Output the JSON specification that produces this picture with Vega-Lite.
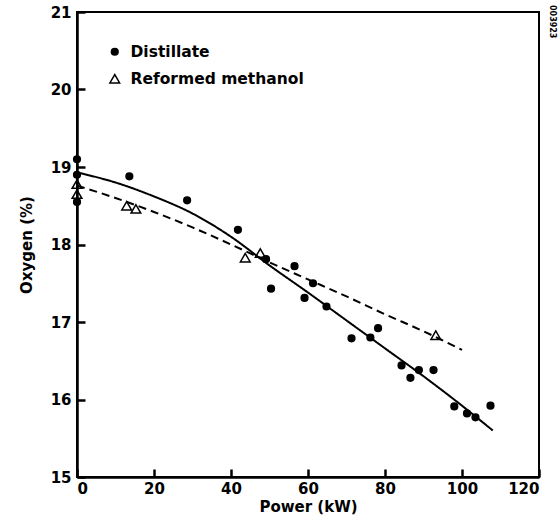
{
  "$schema": "https://vega.github.io/schema/vega-lite/v6.json",
  "width": 462,
  "height": 465,
  "autosize": "none",
  "padding": {"left": 77, "top": 12, "right": 21, "bottom": 44},
  "background": "white",
  "config": {
    "font": "DejaVu Sans",
    "view": {"stroke": "black", "strokeWidth": 2},
    "axis": {
      "domainColor": "black",
      "domainWidth": 2.5,
      "tickColor": "black",
      "tickWidth": 2.5,
      "labelColor": "black",
      "labelFont": "DejaVu Sans",
      "labelFontWeight": "bold",
      "labelFontSize": 15,
      "titleColor": "black",
      "titleFont": "DejaVu Sans",
      "titleFontWeight": "bold",
      "titleFontSize": 15,
      "grid": false,
      "zindex": 1
    },
    "legend": {
      "orient": "none",
      "legendX": 30,
      "legendY": 32,
      "padding": 0,
      "labelFont": "DejaVu Sans",
      "labelFontWeight": "bold",
      "labelFontSize": 15.5,
      "labelColor": "black",
      "labelLimit": 400,
      "labelOffset": 8,
      "rowPadding": 10
    }
  },
  "title": {
    "text": "003923",
    "orient": "right",
    "anchor": "start",
    "fontSize": 8,
    "font": "DejaVu Sans",
    "fontWeight": "bold",
    "color": "black",
    "offset": 8
  },
  "datasets": {
    "points": [
      {"series": "Distillate", "power": 0, "oxygen": 19.1},
      {"series": "Distillate", "power": 0, "oxygen": 18.9},
      {"series": "Distillate", "power": 0, "oxygen": 18.55},
      {"series": "Distillate", "power": 13.6, "oxygen": 18.88},
      {"series": "Distillate", "power": 28.6, "oxygen": 18.57},
      {"series": "Distillate", "power": 41.8, "oxygen": 18.19},
      {"series": "Distillate", "power": 49.1, "oxygen": 17.81},
      {"series": "Distillate", "power": 50.4, "oxygen": 17.43},
      {"series": "Distillate", "power": 56.5, "oxygen": 17.72},
      {"series": "Distillate", "power": 59.1, "oxygen": 17.31},
      {"series": "Distillate", "power": 61.3, "oxygen": 17.5},
      {"series": "Distillate", "power": 64.8, "oxygen": 17.2},
      {"series": "Distillate", "power": 71.3, "oxygen": 16.79},
      {"series": "Distillate", "power": 76.2, "oxygen": 16.8},
      {"series": "Distillate", "power": 78.2, "oxygen": 16.92},
      {"series": "Distillate", "power": 84.3, "oxygen": 16.44},
      {"series": "Distillate", "power": 86.6, "oxygen": 16.28},
      {"series": "Distillate", "power": 88.8, "oxygen": 16.38},
      {"series": "Distillate", "power": 92.6, "oxygen": 16.38},
      {"series": "Distillate", "power": 98.0, "oxygen": 15.91},
      {"series": "Distillate", "power": 101.3, "oxygen": 15.82},
      {"series": "Distillate", "power": 103.5, "oxygen": 15.77},
      {"series": "Distillate", "power": 107.4, "oxygen": 15.92},
      {"series": "Reformed methanol", "power": 0, "oxygen": 18.78},
      {"series": "Reformed methanol", "power": 0, "oxygen": 18.65},
      {"series": "Reformed methanol", "power": 12.9, "oxygen": 18.5},
      {"series": "Reformed methanol", "power": 15.3, "oxygen": 18.46},
      {"series": "Reformed methanol", "power": 43.7, "oxygen": 17.83},
      {"series": "Reformed methanol", "power": 47.6, "oxygen": 17.89},
      {"series": "Reformed methanol", "power": 93.2, "oxygen": 16.83}
    ],
    "fits": [
      {"curve": "Distillate fit", "power": 0, "oxygen": 18.93},
      {"curve": "Distillate fit", "power": 10, "oxygen": 18.8},
      {"curve": "Distillate fit", "power": 20, "oxygen": 18.62},
      {"curve": "Distillate fit", "power": 30, "oxygen": 18.4},
      {"curve": "Distillate fit", "power": 40, "oxygen": 18.1},
      {"curve": "Distillate fit", "power": 50, "oxygen": 17.73},
      {"curve": "Distillate fit", "power": 60, "oxygen": 17.38},
      {"curve": "Distillate fit", "power": 70, "oxygen": 17.02},
      {"curve": "Distillate fit", "power": 80, "oxygen": 16.66},
      {"curve": "Distillate fit", "power": 90, "oxygen": 16.3},
      {"curve": "Distillate fit", "power": 100, "oxygen": 15.92},
      {"curve": "Distillate fit", "power": 108, "oxygen": 15.6},
      {"curve": "Methanol fit", "power": 0, "oxygen": 18.76},
      {"curve": "Methanol fit", "power": 10, "oxygen": 18.6},
      {"curve": "Methanol fit", "power": 20, "oxygen": 18.42},
      {"curve": "Methanol fit", "power": 30, "oxygen": 18.22},
      {"curve": "Methanol fit", "power": 40, "oxygen": 18.0},
      {"curve": "Methanol fit", "power": 50, "oxygen": 17.77},
      {"curve": "Methanol fit", "power": 60, "oxygen": 17.55},
      {"curve": "Methanol fit", "power": 70, "oxygen": 17.33},
      {"curve": "Methanol fit", "power": 80, "oxygen": 17.1},
      {"curve": "Methanol fit", "power": 90, "oxygen": 16.88},
      {"curve": "Methanol fit", "power": 100, "oxygen": 16.64}
    ]
  },
  "encoding": {
    "x": {
      "field": "power",
      "type": "quantitative",
      "scale": {"domain": [0, 120], "nice": false},
      "axis": {
        "title": "Power (kW)",
        "values": [0, 20, 40, 60, 80, 100, 120],
        "tickSize": -8,
        "labelPadding": 12,
        "titlePadding": 3
      }
    },
    "y": {
      "field": "oxygen",
      "type": "quantitative",
      "scale": {"domain": [15, 21], "nice": false, "zero": false},
      "axis": {
        "title": "Oxygen (%)",
        "values": [15, 16, 17, 18, 19, 20, 21],
        "tickSize": -8,
        "labelPadding": 14,
        "titlePadding": 16
      }
    }
  },
  "layer": [
    {
      "data": {"name": "fits"},
      "mark": {"type": "line", "color": "black", "strokeWidth": 2, "interpolate": "monotone"},
      "encoding": {
        "strokeDash": {
          "field": "curve",
          "type": "nominal",
          "scale": {"domain": ["Distillate fit", "Methanol fit"], "range": [[1, 0], [8, 5]]},
          "legend": null
        }
      }
    },
    {
      "data": {"name": "points"},
      "mark": {"type": "point", "stroke": "black", "strokeWidth": 1.5, "opacity": 1},
      "encoding": {
        "shape": {
          "field": "series",
          "type": "nominal",
          "title": null,
          "scale": {"domain": ["Distillate", "Reformed methanol"], "range": ["circle", "triangle-up"]},
          "legend": {
            "labelLimit": 400,
            "encode": {
              "symbols": {
                "update": {
                  "stroke": {"value": "black"},
                  "strokeWidth": {"value": 1.5},
                  "opacity": {"value": 1}
                }
              }
            }
          }
        },
        "fill": {
          "field": "series",
          "type": "nominal",
          "title": null,
          "scale": {"domain": ["Distillate", "Reformed methanol"], "range": ["black", "transparent"]},
          "legend": {
            "labelLimit": 400,
            "encode": {
              "symbols": {
                "update": {
                  "stroke": {"value": "black"},
                  "strokeWidth": {"value": 1.5},
                  "opacity": {"value": 1}
                }
              }
            }
          }
        },
        "size": {
          "field": "series",
          "type": "nominal",
          "title": null,
          "scale": {"domain": ["Distillate", "Reformed methanol"], "range": [45, 95]},
          "legend": {
            "labelLimit": 400,
            "encode": {
              "symbols": {
                "update": {
                  "stroke": {"value": "black"},
                  "strokeWidth": {"value": 1.5},
                  "opacity": {"value": 1}
                }
              }
            }
          }
        }
      }
    }
  ]
}
